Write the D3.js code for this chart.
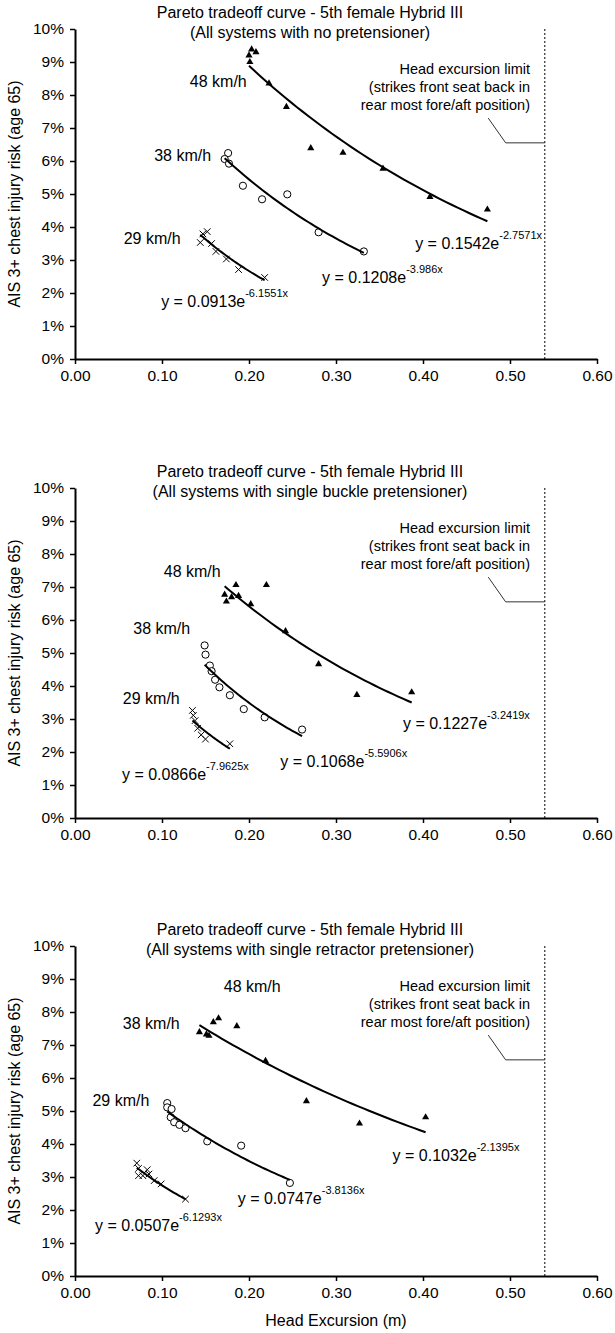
<!DOCTYPE html>
<html>
<head>
<meta charset="utf-8">
<script src="https://cdn.jsdelivr.net/npm/d3@7"></script>
<style>
  body { margin: 0; background: #fff; }
  svg { display: block; }
  text { font-family: "Liberation Sans", Arial, Helvetica, sans-serif; fill: #000; }
</style>
</head>
<body>
<div id="chart"></div>
<script>
// ---- data (x = head excursion in m, y = risk in %) ----
const xTicks = [0, 0.1, 0.2, 0.3, 0.4, 0.5, 0.6]
const yTicks = [0, 1, 2, 3, 4, 5, 6, 7, 8, 9, 10]
const speeds = ['48 km/h', '38 km/h', '29 km/h']
const headLimit = 0.54

const titleLine1 = 'Pareto tradeoff curve - 5th female Hybrid III'
const subTitles = [
    '(All systems with no pretensioner)',
    '(All systems with single buckle pretensioner)',
    '(All systems with single retractor pretensioner)'
]
const limitNote = ['Head excursion limit', '(strikes front seat back in', 'rear most fore/aft position)']

// no pretensioner
const noPret48 = [[0.203, 9.38], [0.208, 9.30], [0.200, 9.20], [0.201, 9.00], [0.223, 8.35], [0.243, 7.64],
    [0.271, 6.39], [0.308, 6.25], [0.354, 5.77], [0.408, 4.91], [0.474, 4.53]]
const noPret38 = [[0.176, 6.24], [0.172, 6.06], [0.177, 5.92], [0.193, 5.25], [0.215, 4.84], [0.244, 4.99],
    [0.280, 3.84], [0.332, 3.26]]
const noPret29 = [[0.152, 3.86], [0.147, 3.79], [0.144, 3.53], [0.157, 3.50], [0.162, 3.26], [0.174, 3.03],
    [0.188, 2.71], [0.218, 2.47]]
const noPretFit = [[0.1542, -2.7571], [0.1208, -3.986], [0.0913, -6.1551]]

// single buckle pretensioner
const buckle48 = [[0.185, 7.06], [0.220, 7.06], [0.172, 6.77], [0.180, 6.69], [0.174, 6.56], [0.188, 6.73],
    [0.202, 6.48], [0.242, 5.66], [0.280, 4.66], [0.324, 3.73], [0.387, 3.81]]
const buckle38 = [[0.149, 5.23], [0.150, 4.95], [0.155, 4.62], [0.157, 4.45], [0.161, 4.19], [0.166, 3.96],
    [0.178, 3.72], [0.194, 3.30], [0.218, 3.05], [0.261, 2.68]]
const buckle29 = [[0.135, 3.26], [0.136, 3.11], [0.138, 2.95], [0.141, 2.72], [0.145, 2.52], [0.150, 2.39],
    [0.178, 2.25]]
const buckleFit = [[0.1227, -3.2419], [0.1068, -5.5906], [0.0866, -7.9625]]

// single retractor pretensioner
const retractor48 = [[0.143, 7.39], [0.151, 7.32], [0.154, 7.28], [0.159, 7.69], [0.165, 7.81], [0.186, 7.57],
    [0.219, 6.52], [0.266, 5.30], [0.327, 4.62], [0.403, 4.81]]
const retractor38 = [[0.106, 5.24], [0.106, 5.11], [0.111, 5.06], [0.110, 4.81], [0.114, 4.66], [0.120, 4.58],
    [0.127, 4.48], [0.152, 4.08], [0.191, 3.95], [0.247, 2.82]]
const retractor29 = [[0.071, 3.42], [0.073, 3.26], [0.073, 3.04], [0.078, 3.04], [0.083, 3.22], [0.085, 3.09],
    [0.091, 2.89], [0.099, 2.79], [0.127, 2.33]]
const retractorFit = [[0.1032, -2.1395], [0.0747, -3.8136], [0.0507, -6.1293]]

// ---- layout ----
const width = 615, height = 1333
const left = 75, plotW = 522, plotH = 330
const panelTops = [29, 488, 946]

// label anchors in data units, per panel: [speed labels], [equation labels]
const panels = [
    { sub: subTitles[0], series: [noPret48, noPret38, noPret29], fit: noPretFit,
      speedAt: [[0.132, 8.24], [0.091, 5.99], [0.056, 3.47]],
      eqAt: [[0.391, 3.33], [0.284, 2.31], [0.099, 1.59]] },
    { sub: subTitles[1], series: [buckle48, buckle38, buckle29], fit: buckleFit,
      speedAt: [[0.102, 7.29], [0.067, 5.58], [0.055, 3.45]],
      eqAt: [[0.377, 2.71], [0.236, 1.55], [0.054, 1.16]] },
    { sub: subTitles[2], series: [retractor48, retractor38, retractor29], fit: retractorFit,
      speedAt: [[0.171, 8.61], [0.055, 7.47], [0.020, 5.14]],
      eqAt: [[0.365, 3.50], [0.187, 2.18], [0.023, 1.35]] }
]

const svg = d3.select('#chart').append('svg')
    .attr('width', width)
    .attr('height', height)

const x = d3.scaleLinear().domain([0, 0.6]).range([0, plotW])
const y = d3.scaleLinear().domain([0, 10]).range([plotH, 0])

const tri = d3.symbol(d3.symbolTriangle, 22)
const cross = d3.symbol(d3.symbolX, 30)

panels.forEach(function(p, pi) {
    const g = svg.append('g').attr('transform', 'translate(' + left + ',' + panelTops[pi] + ')')

    // titles
    g.append('text').attr('x', 235).attr('y', -11).attr('text-anchor', 'middle')
        .style('font-size', '16px').text(titleLine1)
    g.append('text').attr('x', 235).attr('y', 9).attr('text-anchor', 'middle')
        .style('font-size', '16px').text(p.sub)

    // axes
    const yAxis = g.append('g')
        .call(d3.axisLeft(y).tickValues(yTicks).tickFormat(d => d + '%').tickSize(5).tickSizeOuter(0).tickPadding(6))
    const xAxis = g.append('g').attr('transform', 'translate(0,' + plotH + ')')
        .call(d3.axisBottom(x).tickValues(xTicks).tickFormat(d3.format('.2f')).tickSize(5).tickSizeOuter(0).tickPadding(6))
    ;[yAxis, xAxis].forEach(function(a) {
        a.select('.domain').attr('stroke', '#000').attr('stroke-width', 2)
        a.selectAll('.tick line').attr('stroke', '#000').attr('stroke-width', 1.5)
        a.selectAll('.tick text').style('font-size', '15.5px').attr('fill', '#000')
    })

    g.append('text')
        .attr('transform', 'translate(-55,' + plotH / 2 + ') rotate(-90)')
        .attr('text-anchor', 'middle')
        .style('font-size', '16px')
        .text('AIS 3+ chest injury risk (age 65)')

    // head excursion limit
    g.append('line')
        .attr('x1', x(headLimit)).attr('x2', x(headLimit))
        .attr('y1', y(10)).attr('y2', y(0))
        .attr('stroke', '#000').attr('stroke-width', 1).attr('stroke-dasharray', '2,2')

    const note = g.append('text').attr('text-anchor', 'end').style('font-size', '14.5px')
    limitNote.forEach(function(s, i) {
        note.append('tspan').attr('x', x(0.523)).attr('y', y(8.64) + i * 18).text(s)
    })
    g.append('path')
        .attr('d', d3.line().x(d => x(d[0])).y(d => y(d[1]))([[0.475, 7.30], [0.495, 6.55], [headLimit, 6.55]]))
        .attr('fill', 'none').attr('stroke', '#333').attr('stroke-width', 1)

    // series
    p.series.forEach(function(data, si) {
        const xs = data.map(d => d[0])
        const x0 = d3.min(xs), x1 = d3.max(xs)
        const a = p.fit[si][0], b = p.fit[si][1]
        const curve = d3.range(0, 41).map(i => {
            const v = x0 + (x1 - x0) * i / 40
            return [v, a * Math.exp(b * v) * 100]
        })

        if (si === 0) {
            g.selectAll(null).data(data).enter().append('path')
                .attr('d', tri)
                .attr('transform', d => 'translate(' + x(d[0]) + ',' + y(d[1]) + ')')
                .attr('fill', '#000')
        } else if (si === 1) {
            g.selectAll(null).data(data).enter().append('circle')
                .attr('cx', d => x(d[0])).attr('cy', d => y(d[1])).attr('r', 3.6)
                .attr('fill', '#fff').attr('stroke', '#000').attr('stroke-width', 1)
        } else {
            g.selectAll(null).data(data).enter().append('path')
                .attr('d', cross)
                .attr('transform', d => 'translate(' + x(d[0]) + ',' + y(d[1]) + ')')
                .attr('fill', 'none').attr('stroke', '#000').attr('stroke-width', 1)
        }

        g.append('path')
            .attr('d', d3.line().x(d => x(d[0])).y(d => y(d[1]))(curve))
            .attr('fill', 'none').attr('stroke', '#000').attr('stroke-width', 2)

        // labels
        g.append('text')
            .attr('x', x(p.speedAt[si][0])).attr('y', y(p.speedAt[si][1]))
            .style('font-size', '16px')
            .text(speeds[si])

        const eq = g.append('text')
            .attr('x', x(p.eqAt[si][0])).attr('y', y(p.eqAt[si][1]))
            .style('font-size', '16px')
        eq.append('tspan').text('y = ' + a + 'e')
        eq.append('tspan').attr('dy', -10).style('font-size', '11px').text(b + 'x')
    })

    if (pi === panels.length - 1) {
        g.append('text')
            .attr('x', plotW / 2).attr('y', plotH + 50)
            .attr('text-anchor', 'middle')
            .style('font-size', '16px')
            .text('Head Excursion (m)')
    }
})
</script>
</body>
</html>
